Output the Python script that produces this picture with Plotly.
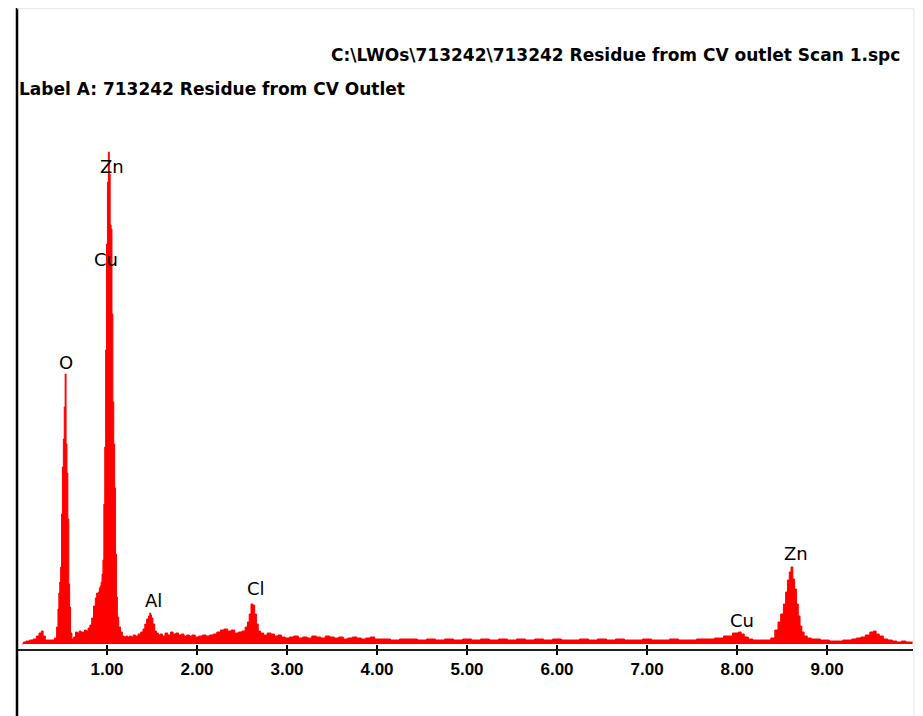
"""
EDS spectrum: 713242 residue from CV outlet.
"""
import plotly.graph_objects as go

# energy (keV) and counts
energy = [
    0.06, 0.08, 0.12, 0.16, 0.20, 0.23, 0.26, 0.28, 0.30, 0.33, 0.36, 0.40,
    0.43, 0.45, 0.46, 0.47, 0.48, 0.49, 0.50, 0.51, 0.52, 0.53, 0.54, 0.55,
    0.56, 0.57, 0.58, 0.59, 0.60, 0.62, 0.64, 0.66, 0.68, 0.70, 0.72, 0.74,
    0.76, 0.78, 0.80, 0.82, 0.84, 0.86, 0.88, 0.89, 0.90, 0.91, 0.92, 0.93,
    0.94, 0.95, 0.96, 0.97, 0.98, 0.99, 1.00, 1.01, 1.02, 1.03, 1.04, 1.05,
    1.06, 1.07, 1.08, 1.09, 1.10, 1.11, 1.12, 1.14, 1.16, 1.18, 1.20, 1.22,
    1.24, 1.26, 1.28, 1.30, 1.33, 1.36, 1.39, 1.41, 1.43, 1.45, 1.47, 1.48,
    1.49, 1.50, 1.52, 1.54, 1.56, 1.58, 1.60, 1.63, 1.66, 1.69, 1.72, 1.75,
    1.78, 1.81, 1.84, 1.87, 1.90, 1.93, 1.96, 2.00, 2.04, 2.08, 2.12, 2.16,
    2.20, 2.24, 2.28, 2.32, 2.36, 2.40, 2.44, 2.48, 2.52, 2.55, 2.57, 2.59,
    2.61, 2.63, 2.65, 2.67, 2.69, 2.72, 2.76, 2.80, 2.84, 2.88, 2.92, 2.96,
    3.00, 3.05, 3.10, 3.15, 3.20, 3.25, 3.30, 3.35, 3.40, 3.45, 3.50, 3.55,
    3.60, 3.65, 3.70, 3.75, 3.80, 3.85, 3.90, 3.95, 4.00, 4.10, 4.20, 4.30,
    4.40, 4.50, 4.60, 4.70, 4.80, 4.90, 5.00, 5.10, 5.20, 5.30, 5.40, 5.50,
    5.60, 5.70, 5.80, 5.90, 6.00, 6.10, 6.20, 6.30, 6.40, 6.50, 6.60, 6.70,
    6.80, 6.90, 7.00, 7.10, 7.20, 7.30, 7.40, 7.50, 7.60, 7.70, 7.80, 7.90,
    8.00, 8.03, 8.06, 8.10, 8.15, 8.20, 8.25, 8.30, 8.35, 8.40, 8.44, 8.47,
    8.50, 8.53, 8.55, 8.57, 8.59, 8.61, 8.63, 8.65, 8.67, 8.69, 8.71, 8.73,
    8.76, 8.80, 8.85, 8.90, 8.95, 9.00, 9.05, 9.10, 9.15, 9.20, 9.25, 9.30,
    9.35, 9.40, 9.45, 9.50, 9.53, 9.56, 9.60, 9.65, 9.70, 9.75, 9.80, 9.85,
    9.90, 9.95,
]
counts = [
    0, 20, 30, 40, 50, 80, 110, 130, 80, 40, 40, 40,
    60, 170, 350, 510, 620, 770, 1300, 1770, 2050, 2370, 2700, 2000,
    1710, 1250, 600, 370, 110, 50, 70, 120, 110, 130, 120, 120,
    140, 130, 160, 190, 260, 380, 460, 510, 480, 520, 560, 580,
    620, 700, 840, 1400, 1970, 2940, 4000, 4620, 4920, 4700, 4190, 4150,
    3300, 2420, 2000, 1560, 900, 470, 270, 170, 120, 80, 70, 80,
    70, 80, 70, 90, 80, 100, 120, 150, 200, 250, 280, 310,
    290, 260, 200, 130, 110, 90, 100, 80, 110, 90, 120, 100,
    110, 90, 100, 80, 90, 80, 90, 70, 80, 90, 80, 90,
    100, 120, 140, 150, 130, 140, 110, 120, 130, 170, 220, 300,
    400, 390, 300, 200, 130, 110, 90, 110, 100, 80, 90, 70,
    60, 70, 80, 60, 70, 60, 80, 70, 60, 80, 70, 60,
    70, 50, 60, 70, 60, 50, 60, 70, 50, 50, 40, 50,
    50, 40, 50, 40, 50, 40, 50, 40, 50, 40, 50, 40,
    50, 40, 50, 40, 50, 40, 40, 50, 40, 50, 40, 50,
    40, 40, 50, 40, 40, 50, 40, 40, 50, 50, 60, 80,
    110, 120, 100, 70, 50, 40, 40, 40, 40, 60, 140, 220,
    300, 400, 520, 640, 720, 770, 650, 550, 400, 280, 180, 120,
    80, 60, 50, 50, 40, 40, 30, 30, 30, 40, 40, 50,
    60, 70, 90, 120, 130, 100, 80, 50, 40, 30, 20, 30,
    20, 20,
]

tick_vals = [1, 2, 3, 4, 5, 6, 7, 8, 9]
tick_text = ["1.00", "2.00", "3.00", "4.00", "5.00", "6.00", "7.00", "8.00", "9.00"]

# peak labels: element, energy (keV), label height (counts)
peak_names = ["O", "Cu", "Zn", "Al", "Cl", "Cu", "Zn"]
peak_energy = [0.54, 0.985, 1.06, 1.517, 2.65, 8.056, 8.656]
peak_label_y = [2820, 3850, 4780, 440, 560, 240, 910]

fig = go.Figure()

fig.add_trace(go.Scatter(
    x=energy, y=counts,
    mode="lines",
    line=dict(color="#ff0000", width=1, shape="hvh"),
    fill="tozeroy",
    fillcolor="#ff0000",
    hoverinfo="skip",
))
# dummy trace so the inner tick axis gets drawn
fig.add_trace(go.Scatter(
    x=energy[:1], y=counts[:1], xaxis="x2", mode="none",
    hoverinfo="skip", showlegend=False,
))

for name, ex, ey in zip(peak_names, peak_energy, peak_label_y):
    fig.add_annotation(
        x=ex, y=ey, text=name, showarrow=False,
        xanchor="center", yanchor="middle",
        font=dict(family="DejaVu Sans", size=18, color="black"),
    )

fig.add_annotation(
    xref="paper", yref="paper", x=0.9877, y=0.9296,
    text="C:\\LWOs\\713242\\713242 Residue from CV outlet Scan 1.spc",
    showarrow=False, xanchor="right", yanchor="middle",
    font=dict(family="DejaVu Sans", size=17, color="black", weight="bold"),
)
fig.add_annotation(
    xref="paper", yref="paper", x=0.0, y=0.8764,
    text="Label A: 713242 Residue from CV Outlet",
    showarrow=False, xanchor="left", yanchor="middle",
    font=dict(family="DejaVu Sans", size=17, color="black", weight="bold"),
)

# frame: heavy left edge, faint top/right edges
fig.add_shape(type="line", xref="paper", yref="paper", x0=0, x1=0, y0=-0.2, y1=1.01,
              line=dict(color="black", width=2.5))
fig.add_shape(type="line", xref="paper", yref="paper", x0=0, x1=1.001, y0=1.002, y1=1.002,
              line=dict(color="#e6e6e6", width=1))
fig.add_shape(type="line", xref="paper", yref="paper", x0=1.001, x1=1.001, y0=1.002, y1=-0.2,
              line=dict(color="#e6e6e6", width=1))

fig.update_layout(
    width=915, height=708,
    margin=dict(l=9, r=10, t=2, b=67),
    paper_bgcolor="white", plot_bgcolor="white",
    showlegend=False,
    xaxis=dict(
        range=[0, 9.955], tickvals=tick_vals, ticktext=tick_text,
        ticks="outside", ticklen=4, tickwidth=1.5, tickcolor="black",
        showline=True, linecolor="#222222", linewidth=2,
        showgrid=False, zeroline=False, ticklabelstandoff=0,
        tickfont=dict(family="Liberation Sans", size=17, color="black", weight="bold"),
    ),
    xaxis2=dict(
        overlaying="x", side="bottom", range=[0, 9.955], tickvals=tick_vals,
        ticks="inside", ticklen=4, tickwidth=1.5, tickcolor="black",
        showticklabels=False, showgrid=False, zeroline=False, showline=False,
    ),
    yaxis=dict(range=[-50, 6340], visible=False, showgrid=False, zeroline=False),
)

fig.write_html("out.html")
